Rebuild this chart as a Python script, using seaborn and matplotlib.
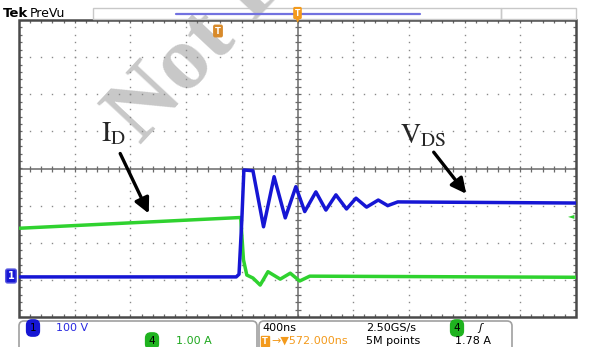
import numpy as np
import matplotlib
matplotlib.use("Agg")
import matplotlib.pyplot as plt
from matplotlib.patches import FancyBboxPatch, Rectangle
import pandas as pd
import seaborn as sns

# === data (time in ns, 400 ns/div; amplitude in divisions) ===
vds_time = [-2000, -440, -420, -400, -385, -320, -244, -168, -88, -12, 52, 132,
            204, 276, 352, 420, 496, 580, 648, 720, 2000]
vds_div = [-2.92, -2.92, -2.85, -1.4, -0.04, -0.06, -1.57, -0.22, -1.33, -0.49,
           -1.16, -0.63, -1.12, -0.71, -1.09, -0.80, -1.04, -0.85, -1.0, -0.90, -0.93]
id_time = [-2000, -408, -388, -364, -320, -268, -212, -124, -52, 16, 88, 2000]
id_div = [-1.61, -1.32, -2.46, -2.87, -2.95, -3.14, -2.78, -2.98, -2.82, -3.03, -2.90, -2.93]

W, H = 594, 347
BLUE = '#1616d4'
GREEN = '#2fd22f'
ORANGE = '#f39a1c'
GRID = '#8a8a8a'

sns.set_style("white")
plt.rcParams['font.family'] = ['DejaVu Sans']
plt.rcParams['mathtext.fontset'] = 'stix'

fig = plt.figure(figsize=(W / 100, H / 100), dpi=100)
ax = fig.add_axes([19 / W, 1 - 317 / H, (576 - 19) / W, (317 - 20) / H])
ax.set_zorder(1)
ax.patch.set_alpha(0)
ax.set_xlim(-2000, 2000)
ax.set_ylim(-4, 4)
ax.set_xticks([])
ax.set_yticks([])
for s in ax.spines.values():
    s.set_visible(False)

# --- graticule ---
ys_minor = np.arange(-4, 4.001, 0.2)
xs_minor = np.arange(-2000, 2000.1, 80)
for xv in range(-1600, 1601, 400):
    if xv != 0:
        ax.plot([xv] * len(ys_minor), ys_minor, ls='none', marker='s', ms=1.0,
                mew=0, color=GRID, zorder=1)
for yv in range(-3, 4):
    if yv != 0:
        ax.plot(xs_minor, [yv] * len(xs_minor), ls='none', marker='s', ms=1.0,
                mew=0, color=GRID, zorder=1)
ax.axhline(0, color='#6a6a6a', lw=1.1, zorder=1)
ax.axvline(0, color='#6a6a6a', lw=1.1, zorder=1)
ax.plot(xs_minor, [0] * len(xs_minor), ls='none', marker='|', ms=4, mew=0.9, color='#6a6a6a', zorder=1)
ax.plot([0] * len(ys_minor), ys_minor, ls='none', marker='_', ms=4, mew=0.9, color='#6a6a6a', zorder=1)
for yv in (-4, 4):
    ax.plot(xs_minor, [yv] * len(xs_minor), ls='none', marker='|', ms=4, mew=0.9, color='#6a6a6a', zorder=1)
for xv in (-2000, 2000):
    ax.plot([xv] * len(ys_minor), ys_minor, ls='none', marker='_', ms=4, mew=0.9, color='#6a6a6a', zorder=1)
ax.add_patch(Rectangle((-2000, -4), 4000, 8, fill=False, ec='#4a4a4a', lw=1.8,
                       zorder=2, clip_on=False))

# --- traces ---
vds = pd.DataFrame({'t': vds_time, 'v': vds_div})
idd = pd.DataFrame({'t': id_time, 'v': id_div})
sns.lineplot(data=idd, x='t', y='v', sort=False, estimator=None, color=GREEN,
             lw=2.5, ax=ax, zorder=3)
sns.lineplot(data=vds, x='t', y='v', sort=False, estimator=None, color=BLUE,
             lw=2.5, ax=ax, zorder=4)
ax.set_xlabel('')
ax.set_ylabel('')


def px(x, y):
    # pixel position -> data coordinates
    return (x - 297.5) / 55.7 * 400, (168.5 - y) / 37.125


# --- annotations ---
ax.annotate('', xy=px(150, 216), xytext=px(119, 151),
            arrowprops=dict(arrowstyle='-|>,head_length=0.9,head_width=0.45',
                            color='black', lw=2.4), zorder=6)
ax.annotate('', xy=px(468, 196), xytext=px(432, 150),
            arrowprops=dict(arrowstyle='-|>,head_length=0.9,head_width=0.45',
                            color='black', lw=2.4), zorder=6)
ax.text(*px(101, 141), r'$\mathrm{I_D}$', fontsize=20, ha='left', va='baseline', zorder=6)
ax.text(*px(400, 143), r'$\mathrm{V_{DS}}$', fontsize=20, ha='left', va='baseline', zorder=6)

# --- watermark ---
fig.text(140 / W, 1 - 145 / H, 'Not F', rotation=47, rotation_mode='anchor',
         ha='left', va='baseline', fontsize=66, family='Liberation Serif',
         weight='bold', color='#c8c8c8', zorder=0.5)

tr = fig.dpi_scale_trans


def box(x0, y0, x1, y1, **kw):
    fig.patches.append(FancyBboxPatch((x0 / 100, (H - y1) / 100), (x1 - x0) / 100,
                                      (y1 - y0) / 100, transform=tr, figure=fig, **kw))


def ftext(x, y, s, **kw):
    kw.setdefault('va', 'center')
    kw.setdefault('ha', 'left')
    fig.text(x / W, 1 - y / H, s, **kw)


# --- top bar ---
box(93, 8, 501, 19, boxstyle='square,pad=0', fc='none', ec='#c8c8c8', lw=1)
box(501, 8, 576, 19, boxstyle='square,pad=0', fc='none', ec='#c8c8c8', lw=1)
fig.lines.append(plt.Line2D([176 / W, 420 / W], [1 - 13.5 / H] * 2, color='#7272e0',
                            lw=1.6, transform=fig.transFigure))
ftext(3, 13.5, 'Tek', fontsize=9.5, weight='bold', color='black')
ftext(30, 13.5, 'PreVu', fontsize=9, color='black')
ftext(297.5, 13, 'T', fontsize=5.5, color='white', ha='center', weight='bold',
      bbox=dict(boxstyle='round,pad=0.12', fc=ORANGE, ec=ORANGE))
fig.text(297.5 / W, 1 - 20.5 / H, '▼', fontsize=5, color=ORANGE, ha='center', va='center')
ftext(218, 31, 'T', fontsize=6, color='white', ha='center', weight='bold',
      bbox=dict(boxstyle='round,pad=0.15', fc='#d88a2a', ec='#d88a2a'))

# --- channel markers ---
ftext(11, 276, '1', fontsize=7, color='white', ha='center', weight='bold',
      bbox=dict(boxstyle='round,pad=0.2', fc=BLUE, ec='#5a5ae0'))
ftext(571, 216, '◄', fontsize=6, color=GREEN, ha='center')

# --- bottom status panels ---
box(19, 321, 257, 356, boxstyle='round,pad=0,rounding_size=0.05', fc='none', ec='#a0a0a0', lw=1.2)
box(259, 321, 512, 356, boxstyle='round,pad=0,rounding_size=0.05', fc='none', ec='#a0a0a0', lw=1.2)
ftext(33, 328, '1', fontsize=7.5, color='black', ha='center',
      bbox=dict(boxstyle='round,pad=0.3,rounding_size=0.5', fc=BLUE, ec=BLUE))
ftext(56, 328, '100 V', fontsize=8, color='#2a2ae0')
ftext(152, 341, '4', fontsize=7.5, color='black', ha='center',
      bbox=dict(boxstyle='round,pad=0.3,rounding_size=0.5', fc='#1fb31f', ec='#1fb31f'))
ftext(176, 341, '1.00 A', fontsize=8, color='#1fa81f')
ftext(262, 328, '400ns', fontsize=8, color='black')
ftext(366, 328, '2.50GS/s', fontsize=8, color='black')
ftext(457, 328, '4', fontsize=7.5, color='black', ha='center',
      bbox=dict(boxstyle='round,pad=0.3,rounding_size=0.5', fc='#1fb31f', ec='#1fb31f'))
ftext(478, 328, 'ʃ', fontsize=8, color='black', style='italic')
ftext(262, 341, 'T', fontsize=6, color='white', weight='bold',
      bbox=dict(boxstyle='square,pad=0.1', fc=ORANGE, ec=ORANGE))
ftext(271, 341, '→▼572.000ns', fontsize=8, color=ORANGE)
ftext(366, 341, '5M points', fontsize=8, color='black')
ftext(455, 341, '1.78 A', fontsize=8, color='black')

fig.savefig('out.png', dpi=100)
